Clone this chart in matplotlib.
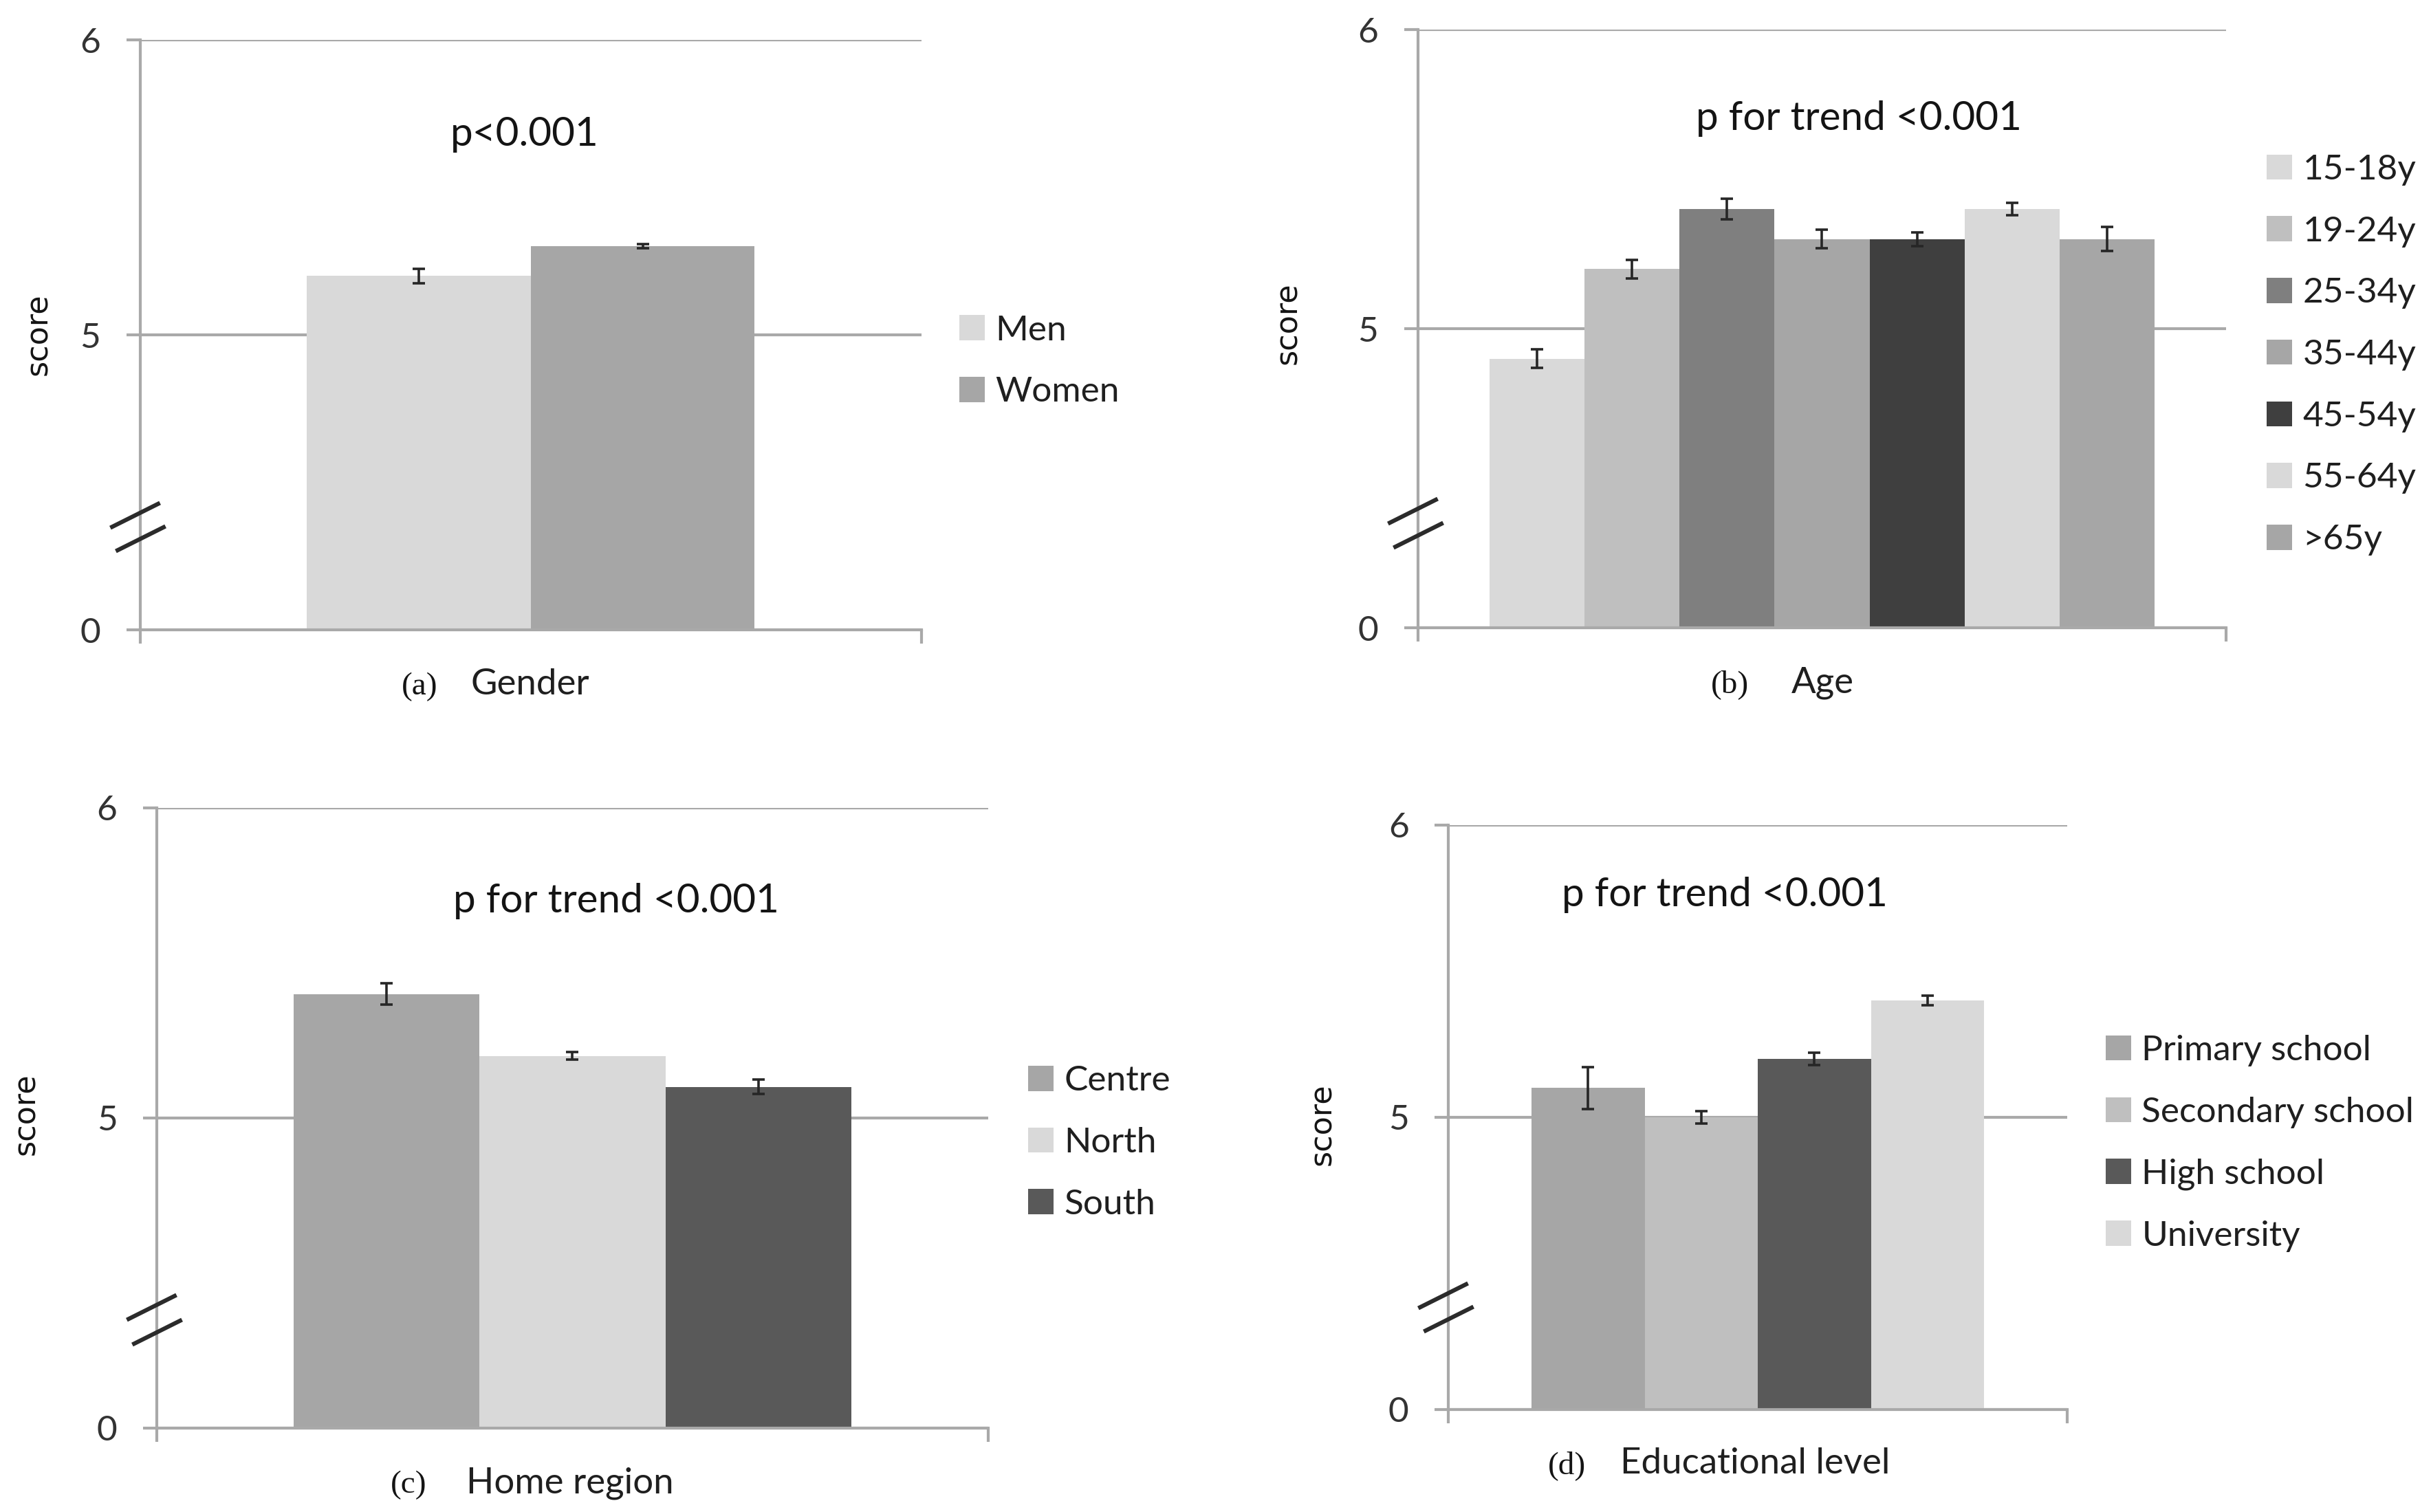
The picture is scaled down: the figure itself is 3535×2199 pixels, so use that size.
import numpy as np
import matplotlib
matplotlib.use('Agg')
import matplotlib.pyplot as plt
from matplotlib.patches import Patch
from matplotlib import transforms

# values (score means and error bar half widths)
gender_labels = ['Men', 'Women']
gender_means = [5.20, 5.30]
gender_err = [0.025, 0.007]
gender_colors = ['#d9d9d9', '#a6a6a6']

age_labels = ['15-18y', '19-24y', '25-34y', '35-44y', '45-54y', '55-64y', '>65y']
age_means = [4.90, 5.20, 5.40, 5.30, 5.30, 5.40, 5.30]
age_err = [0.031, 0.031, 0.034, 0.031, 0.023, 0.020, 0.041]
age_colors = ['#d9d9d9', '#bfbfbf', '#7f7f7f', '#a6a6a6', '#3f3f3f', '#d9d9d9', '#a6a6a6']

region_labels = ['Centre', 'North', 'South']
region_means = [5.40, 5.20, 5.10]
region_err = [0.035, 0.012, 0.023]
region_colors = ['#a6a6a6', '#d9d9d9', '#595959']

edu_labels = ['Primary school', 'Secondary school', 'High school', 'University']
edu_means = [5.10, 5.00, 5.20, 5.40]
edu_err = [0.072, 0.022, 0.022, 0.017]
edu_colors = ['#a6a6a6', '#bfbfbf', '#595959', '#d9d9d9']

yticks = [0, 5, 6]

GRID = '#a9a9a9'
SANS = 'Lato'


# broken axis: 0..4.5 squeezed, 4.5..6 linear
def fwd(v):
    v = np.asarray(v, dtype=float)
    return np.where(v < 4.5, v / 9.0, v - 4.0)


def inv(t):
    t = np.asarray(t, dtype=float)
    return np.where(t < 0.5, t * 9.0, t + 4.0)


fig = plt.figure(figsize=(17.675, 10.995), dpi=200)


def panel(rect, labels, means, errs, colors, group_w, title, title_xy,
          tag, xlab, tag_x, xlab_x, lab_y, score_xy, leg_xy):
    ax = fig.add_axes(rect)
    ax.set_yscale('function', functions=(fwd, inv))
    n = len(labels)
    w = group_w / n
    x = -group_w / 2 + w * (np.arange(n) + 0.5)
    ax.bar(x, means, width=w, color=colors, zorder=2,
           yerr=errs, error_kw=dict(ecolor='#262626', elinewidth=1.3,
                                    capsize=3.3, capthick=1.3, zorder=3))
    ax.set_xlim(-0.5, 0.5)
    ax.set_ylim(0, 6)
    ax.set_yticks(yticks)
    ax.set_yticklabels([str(t) for t in yticks])
    ax.set_xticks([-0.5, 0.5])
    ax.set_xticklabels(['', ''])
    ax.yaxis.grid(True, color=GRID, linewidth=1.5, zorder=0)
    ax.set_axisbelow(True)
    for s in ['top', 'right']:
        ax.spines[s].set_visible(False)
    for s in ['left', 'bottom']:
        ax.spines[s].set_color(GRID)
        ax.spines[s].set_linewidth(1.5)
    ax.tick_params(axis='both', direction='out', length=7.2, width=1.5,
                   color=GRID)
    ax.tick_params(axis='y', pad=13.5, labelsize=18.5, labelcolor='#333333')
    for lb in ax.get_yticklabels():
        lb.set_family(SANS)

    # the break marks on the y axis
    for yb, dx in [(0.195, -3), (0.155, 0)]:
        tr = transforms.offset_copy(ax.transAxes, fig=fig, x=dx, y=0, units='points')
        ax.plot([0], [yb], transform=tr, marker=[(-1, -0.5), (1, 0.5)],
                markersize=26, markeredgewidth=2.2, markeredgecolor='#2b2b2b',
                markerfacecolor='none', linestyle='none', clip_on=False, zorder=5)

    handles = [Patch(facecolor=c, edgecolor='none') for c in colors]
    ax.legend(handles, labels, loc='center left', bbox_to_anchor=leg_xy,
              bbox_transform=fig.transFigure, frameon=False,
              prop=dict(family=SANS, size=18.5), labelcolor='#1f1f1f',
              handlelength=0.72, handleheight=0.72, handletextpad=0.3,
              labelspacing=0.85, borderpad=0, borderaxespad=0)

    fig.text(title_xy[0], title_xy[1], title, ha='center', va='baseline',
             family=SANS, size=21, color='#141414')
    fig.text(tag_x, lab_y, tag, ha='left', va='baseline',
             family='Liberation Serif', size=17, color='#141414')
    fig.text(xlab_x, lab_y, xlab, ha='left', va='baseline',
             family=SANS, size=19, color='#1f1f1f')
    fig.text(score_xy[0], score_xy[1], 'score', rotation=90, ha='center',
             va='center', family='DejaVu Sans', size=16, color='#141414')
    return ax


panel([0.0577, 0.5834, 0.379 - 0.0577, 0.9736 - 0.5834],
      gender_labels, gender_means, gender_err, gender_colors, 0.573,
      'p<0.001', (0.2158, 0.9036), '(a)', 'Gender', 0.1652, 0.1935, 0.5407,
      (0.0156, 0.779), (0.3946, 0.761))

panel([0.5833, 0.5848, 0.9157 - 0.5833, 0.9804 - 0.5848],
      age_labels, age_means, age_err, age_colors, 0.823,
      'p for trend <0.001', (0.7647, 0.914), '(b)', 'Age', 0.7038, 0.7369, 0.542,
      (0.5296, 0.7863), (0.9324, 0.7653))

panel([0.0645, 0.0555, 0.4065 - 0.0645, 0.4657 - 0.0555],
      region_labels, region_means, region_err, region_colors, 0.671,
      'p for trend <0.001', (0.2535, 0.3966), '(c)', 'Home region', 0.1607, 0.1918, 0.0127,
      (0.0105, 0.2633), (0.423, 0.2442))

panel([0.5958, 0.0678, 0.8504 - 0.5958, 0.4543 - 0.0678],
      edu_labels, edu_means, edu_err, edu_colors, 0.731,
      'p for trend <0.001', (0.7095, 0.4006), '(d)', 'Educational level', 0.6368, 0.6665, 0.0255,
      (0.544, 0.2565), (0.8662, 0.2438))

plt.savefig('out.png', dpi=200)
